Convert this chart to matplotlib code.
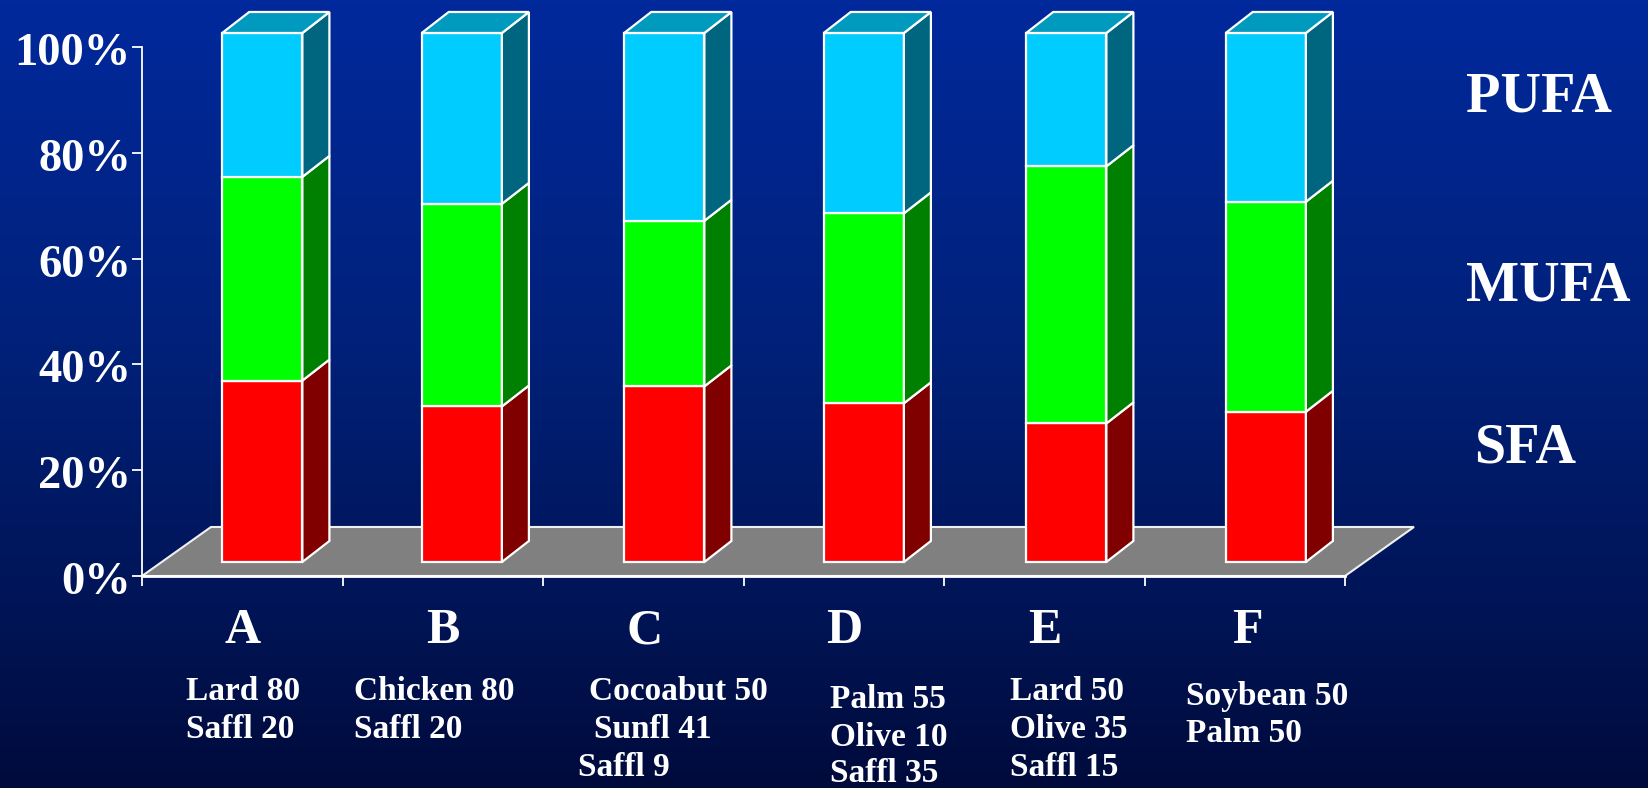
import matplotlib
matplotlib.use("Agg")
import matplotlib.pyplot as plt
import numpy as np
from matplotlib.colors import LinearSegmentedColormap
from matplotlib.transforms import ScaledTranslation

W, H = 1648, 788

categories = ['A', 'B', 'C', 'D', 'E', 'F']
sfa = [34.3, 29.4, 33.2, 30.0, 26.2, 28.4]
mufa = [38.5, 38.3, 31.3, 35.9, 48.6, 39.7]
pufa = [27.2, 32.3, 35.5, 34.1, 25.2, 31.9]
y_ticks = [0, 20, 40, 60, 80, 100]

# blend text: each line as (text, x px, y px)
blend_lines = [
    ('Lard 80', 186, 691), ('Saffl 20', 186, 729),
    ('Chicken 80', 354, 691), ('Saffl 20', 354, 729),
    ('Cocoabut 50', 589, 691), ('Sunfl 41', 594, 729), ('Saffl 9', 578, 767),
    ('Palm 55', 830, 700), ('Olive 10', 830, 737), ('Saffl 35', 830, 774),
    ('Lard 50', 1010, 691), ('Olive 35', 1010, 729), ('Saffl 15', 1010, 767),
    ('Soybean 50', 1186, 697), ('Palm 50', 1186, 733),
]
cat_x = [243, 443, 645, 844, 1045, 1247]
legend_items = [('PUFA', 1466, 97), ('MUFA', 1466, 287), ('SFA', 1474, 449)]
bar_nudge = [0, -1, 1, 0, 2, 1]  # px shift of each bar

front_colors = ['#ff0000', '#00ff00', '#00ccff']
side_colors = ['#800000', '#008000', '#006680']
top_color = '#009abf'
SERIF = 'Liberation Serif'

fig = plt.figure(figsize=(W / 100, H / 100), dpi=100)

# background gradient
bg = fig.add_axes([0, 0, 1, 1], zorder=0)
cmap = LinearSegmentedColormap.from_list('bg', [(0, '#00299c'), (0.45, '#002078'), (0.75, '#001558'), (1, '#000b3c')])
bg.imshow(np.linspace(0, 1, 256).reshape(-1, 1), cmap=cmap, aspect='auto', extent=(0, 1, 0, 1))
bg.axis('off')

# plot area runs from the axis corner to the 100% tick
left, right, top, bottom = 142, 1345, 47, 576
ax = fig.add_axes([left / W, 1 - bottom / H, (right - left) / W, (bottom - top) / H], zorder=1)
ax.patch.set_alpha(0)
ax.set_xlim(0, 6)
ax.set_ylim(0, 100)
for s in ['top', 'right']:
    ax.spines[s].set_visible(False)
for s in ['left', 'bottom']:
    ax.spines[s].set_color('white')
    ax.spines[s].set_linewidth(1.3)
ax.spines['bottom'].set_linewidth(2)
ax.spines['bottom'].set_zorder(6)
ax.set_xticks(range(7))
ax.set_xticklabels([])
ax.set_yticks(y_ticks)
ax.set_yticklabels(['%d%%' % v for v in y_ticks], fontsize=33.5, fontweight='bold',
                   family=SERIF, color='white')
ax.tick_params(axis='y', length=7, width=1.3, color='white', pad=1)
ax.tick_params(axis='x', length=7, width=1.3, color='white')
# labels sit slightly below their ticks
shift = ScaledTranslation(0, -2 / 100, fig.dpi_scale_trans)
for lab in ax.get_yticklabels():
    lab.set_transform(lab.get_transform() + shift)

# floor
floor_dx, floor_dy = 69 / 200.5, 49 / 5.29
ax.fill([0, 6, 6 + floor_dx, floor_dx], [0, 0, floor_dy, floor_dy], facecolor='#808080',
        edgecolor='#f0f0f0', linewidth=1.5, clip_on=False, zorder=1)

# stacked bars with oblique side and top faces
bar_w = 0.40
dx, dy = 27 / 200.5, 21 / 5.29
base = 2.65
x0 = np.arange(6) + 0.4 + np.array(bar_nudge) / 200.5
bottoms = np.full(6, base)
line = dict(edgecolor='white', linewidth=1.6, clip_on=False, joinstyle='miter')
for vals, fc, sc in zip([sfa, mufa, pufa], front_colors, side_colors):
    vals = np.array(vals)
    ax.bar(x0, vals, bar_w, bottom=bottoms, align='edge', facecolor=fc, zorder=3, **line)
    for x, b, v in zip(x0, bottoms, vals):
        xr = x + bar_w
        ax.fill([xr, xr + dx, xr + dx, xr], [b, b + dy, b + v + dy, b + v], facecolor=sc, zorder=3, **line)
    bottoms = bottoms + vals
for x, t in zip(x0, bottoms):
    ax.fill([x, x + bar_w, x + bar_w + dx, x + dx], [t, t, t + dy, t + dy], facecolor=top_color, zorder=3, **line)


def px_text(s, x, y, size, ha='left'):
    fig.text(x / W, 1 - y / H, s, fontsize=size, fontweight='bold', family=SERIF,
             color='white', ha=ha, va='center', zorder=5)


for c, x in zip(categories, cat_x):
    px_text(c, x, 631, 36, ha='center')
for s, x, y in blend_lines:
    px_text(s, x, y, 24)
for s, x, y in legend_items:
    px_text(s, x, y, 40.5)

fig.savefig('out.png', dpi=100)
